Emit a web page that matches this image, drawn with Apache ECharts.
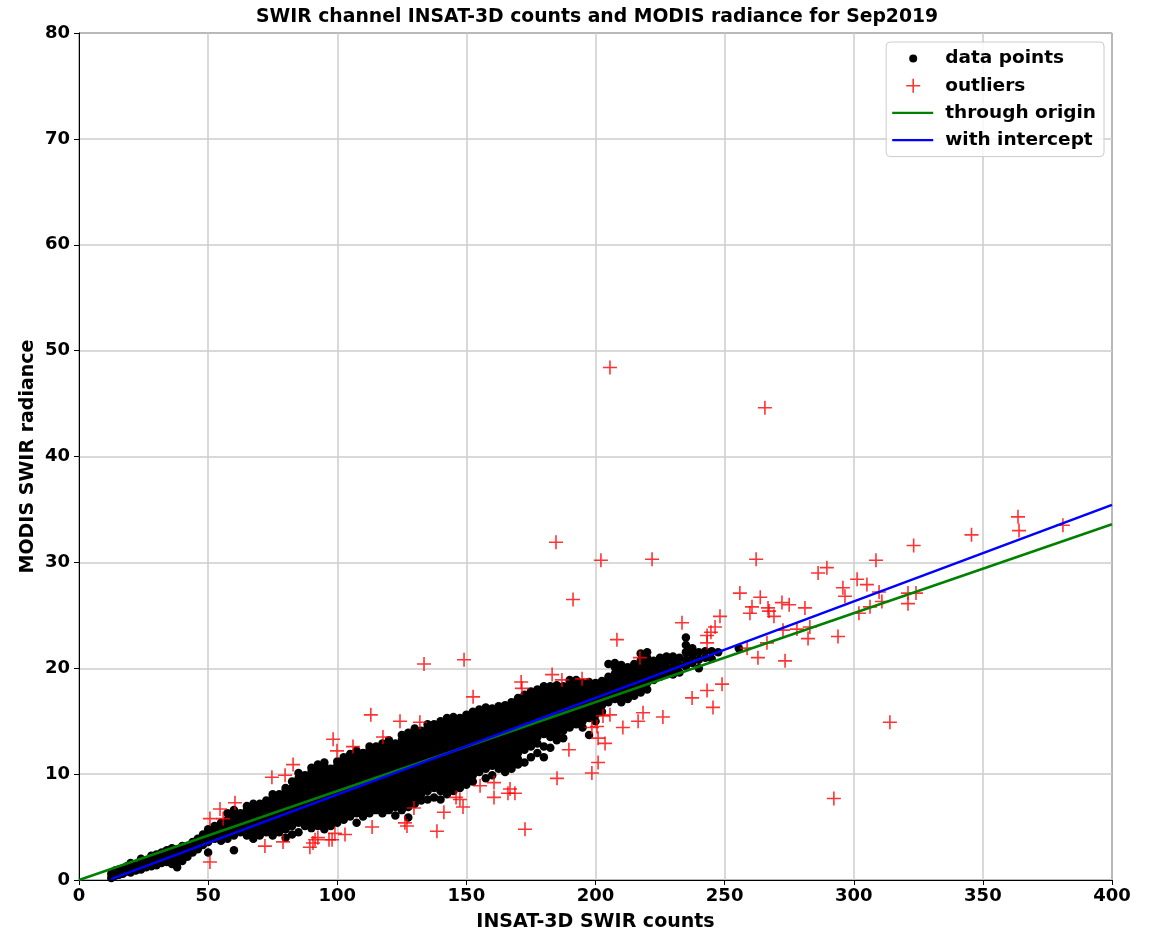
<!DOCTYPE html>
<html>
<head>
<meta charset="utf-8">
<script src="https://cdn.jsdelivr.net/npm/echarts/dist/echarts.min.js"></script>
<style>
body { margin: 0; background: #fff; }
#main { width: 1160px; height: 933px; }
</style>
</head>
<body>
<div id="main"></div>
<script>
// black data points, read column by column: [counts, [radiance values]]
var colsA = [
  [12.5, [0.2, 0.6]], [14, [0.4, 0.9]], [15.5, [0.5, 1.0]], [17, [0.6, 1.1]], [18.5, [0.8, 1.3]],
  [20, [0.7, 1.2, 1.6]], [22, [0.9, 1.4]], [24, [1.0, 1.5, 2.0]], [26, [1.2, 1.7]],
  [28, [1.3, 1.8, 2.3]], [30, [1.4, 1.9, 2.4]], [32, [1.6, 2.1, 2.6]], [34, [1.7, 2.2, 2.8]],
  [36, [1.5, 2.0, 2.5, 3.0]], [38, [1.2, 1.9, 2.4, 2.9]], [40, [1.8, 2.3, 2.8, 3.2]],
  [42, [2.2, 2.7, 3.2]], [44, [2.6, 3.1, 3.6]], [46, [2.9, 3.4, 3.9]], [48, [3.3, 3.8, 4.3]]
];
var colsB = [
  [50, [2.6, 3.6, 4.2, 4.8]], [52.5, [3.9, 4.5, 5.1]], [55, [3.7, 4.2, 4.8, 5.4]],
  [57.5, [3.9, 4.5, 5.1, 5.7, 6.3]], [60, [2.8, 4.2, 4.8, 5.4, 6.0, 6.6]], [62.5, [4.5, 5.1, 5.7, 6.3]],
  [65, [4.2, 4.8, 5.4, 6.0, 6.6, 7.0]], [67.5, [3.9, 4.5, 5.1, 5.7, 6.3, 6.9, 7.2]],
  [70, [4.2, 4.8, 5.4, 6.0, 6.6, 7.2]], [72.5, [4.5, 5.1, 5.7, 6.3, 6.9, 7.5]],
  [75, [4.2, 4.8, 5.4, 6.0, 6.6, 7.2, 7.8, 8.1]], [77.5, [4.5, 5.1, 5.7, 6.3, 6.9, 7.5, 8.1]],
  [80, [4.0, 4.8, 5.4, 6.0, 6.6, 7.2, 7.8, 8.4, 8.7]], [82.5, [4.3, 5.1, 5.7, 6.3, 6.9, 7.5, 8.1, 8.7, 9.3]],
  [85, [4.5, 5.4, 6.0, 6.6, 7.2, 7.8, 8.4, 9.0, 9.6, 10.1]], [87.5, [5.1, 5.7, 6.3, 6.9, 7.5, 8.1, 8.7, 9.3, 9.9]],
  [90, [4.9, 5.4, 6.0, 6.6, 7.2, 7.8, 8.4, 9.0, 9.6, 10.2, 10.6]],
  [92.5, [5.1, 5.7, 6.3, 6.9, 7.5, 8.1, 8.7, 9.3, 9.9, 10.5, 10.9]],
  [95, [4.8, 5.4, 6.0, 6.6, 7.2, 7.8, 8.4, 9.0, 9.6, 10.2, 10.8, 11.1]],
  [97.5, [5.1, 5.7, 6.3, 6.9, 7.5, 8.1, 8.7, 9.3, 9.9, 10.5]]
];
var colsC = [
  [100, [5.4, 6.0, 6.6, 7.2, 7.8, 8.4, 9.0, 9.6, 10.2, 10.8, 11.2]],
  [102.5, [5.7, 6.3, 6.9, 7.5, 8.1, 8.7, 9.3, 9.9, 10.5, 11.1, 11.6]],
  [105, [6.0, 6.6, 7.2, 7.8, 8.4, 9.0, 9.6, 10.2, 10.8, 11.4, 11.9]],
  [107.5, [5.4, 6.3, 6.9, 7.5, 8.1, 8.7, 9.3, 9.9, 10.5, 11.1, 11.7, 12.2]],
  [110, [6.0, 6.6, 7.2, 7.8, 8.4, 9.0, 9.6, 10.2, 10.8, 11.4, 12.0]],
  [112.5, [6.3, 6.9, 7.5, 8.1, 8.7, 9.3, 9.9, 10.5, 11.1, 11.7, 12.3, 12.6]],
  [115, [6.6, 7.2, 7.8, 8.4, 9.0, 9.6, 10.2, 10.8, 11.4, 12.0, 12.6]],
  [117.5, [6.3, 6.9, 7.5, 8.1, 8.7, 9.3, 9.9, 10.5, 11.1, 11.7, 12.3, 12.9]],
  [120, [6.6, 7.2, 7.8, 8.4, 9.0, 9.6, 10.2, 10.8, 11.4, 12.0, 12.6, 13.2]],
  [122.5, [6.1, 6.9, 7.5, 8.1, 8.7, 9.3, 9.9, 10.5, 11.1, 11.7, 12.3, 12.9]],
  [125, [6.6, 7.2, 7.8, 8.4, 9.0, 9.6, 10.2, 10.8, 11.4, 12.0, 12.6, 13.2, 13.7]],
  [127.5, [5.9, 6.9, 7.5, 8.1, 8.7, 9.3, 9.9, 10.5, 11.1, 11.7, 12.3, 12.9, 13.5, 13.9]],
  [130, [7.2, 7.8, 8.4, 9.0, 9.6, 10.2, 10.8, 11.4, 12.0, 12.6, 13.2, 13.8, 14.3]],
  [132.5, [7.5, 8.1, 8.7, 9.3, 9.9, 10.5, 11.1, 11.7, 12.3, 12.9, 13.5, 14.1]],
  [135, [7.6, 8.4, 9.0, 9.6, 10.2, 10.8, 11.4, 12.0, 12.6, 13.2, 13.8, 14.4, 14.7]],
  [137.5, [7.8, 8.7, 9.3, 9.9, 10.5, 11.1, 11.7, 12.3, 12.9, 13.5, 14.1, 14.7]],
  [140, [7.6, 8.4, 9.0, 9.6, 10.2, 10.8, 11.4, 12.0, 12.6, 13.2, 13.8, 14.4, 15.0]],
  [142.5, [8.1, 8.7, 9.3, 9.9, 10.5, 11.1, 11.7, 12.3, 12.9, 13.5, 14.1, 14.7, 15.3]],
  [145, [8.4, 9.0, 9.6, 10.2, 10.8, 11.4, 12.0, 12.6, 13.2, 13.8, 14.4, 15.0, 15.4]],
  [147.5, [8.7, 9.3, 9.9, 10.5, 11.1, 11.7, 12.3, 12.9, 13.5, 14.1, 14.7, 15.3]]
];
var colsD = [
  [150, [9.0, 9.6, 10.2, 10.8, 11.4, 12.0, 12.6, 13.2, 13.8, 14.4, 15.0, 15.6]],
  [152.5, [9.3, 9.9, 10.5, 11.1, 11.7, 12.3, 12.9, 13.5, 14.1, 14.7, 15.3, 15.9]],
  [155, [10.2, 10.8, 11.4, 12.0, 12.6, 13.2, 13.8, 14.4, 15.0, 15.6, 16.1]],
  [157.5, [9.6, 10.5, 11.1, 11.7, 12.3, 12.9, 13.5, 14.1, 14.7, 15.3, 15.9, 16.3]],
  [160, [9.9, 10.8, 11.4, 12.0, 12.6, 13.2, 13.8, 14.4, 15.0, 15.6, 16.2]],
  [162.5, [10.5, 11.1, 11.7, 12.3, 12.9, 13.5, 14.1, 14.7, 15.3, 15.9, 16.4]],
  [165, [10.2, 10.8, 11.4, 12.0, 12.6, 13.2, 13.8, 14.4, 15.0, 15.6, 16.2, 16.5]],
  [167.5, [10.5, 11.1, 11.7, 12.3, 12.9, 13.5, 14.1, 14.7, 15.3, 15.9, 16.5, 16.8]],
  [170, [10.9, 11.4, 12.0, 12.6, 13.2, 13.8, 14.4, 15.0, 15.6, 16.2, 16.8, 17.2]],
  [172.5, [11.1, 12.3, 12.9, 13.5, 14.1, 14.7, 15.3, 15.9, 16.5, 17.1, 17.5]],
  [175, [11.6, 12.6, 13.2, 13.8, 14.4, 15.0, 15.6, 16.2, 16.8, 17.4, 17.8]],
  [177.5, [12.0, 12.9, 13.5, 14.1, 14.7, 15.3, 15.9, 16.5, 17.1, 17.7, 18.0]],
  [180, [11.6, 12.6, 13.8, 14.4, 15.0, 15.6, 16.2, 16.8, 17.4, 18.0, 18.3]],
  [182.5, [12.5, 13.5, 14.1, 14.7, 15.3, 15.9, 16.5, 17.1, 17.7, 18.3]],
  [185, [13.2, 13.8, 14.4, 15.0, 15.6, 16.2, 16.8, 17.4, 18.0, 18.4]],
  [187.5, [13.4, 14.1, 14.7, 15.3, 15.9, 16.5, 17.1, 17.7, 18.3]],
  [190, [14.4, 15.0, 15.6, 16.2, 16.8, 17.4, 18.0, 18.6, 18.9]],
  [192.5, [14.7, 15.3, 15.9, 16.5, 17.1, 17.7, 18.3, 18.9]],
  [195, [14.4, 15.0, 15.6, 16.2, 16.8, 17.4, 18.0, 18.6]],
  [197.5, [13.7, 15.3, 15.9, 16.5, 17.1, 17.7, 18.3, 18.7]]
];
var colsE = [
  [200, [15.0, 15.6, 16.2, 16.8, 17.4, 18.0, 18.6]], [202.5, [15.9, 16.5, 17.1, 17.7, 18.3, 18.8]],
  [205, [16.8, 17.4, 18.0, 18.6, 19.2, 20.4]], [207.5, [17.1, 17.7, 18.3, 18.9, 19.5, 20.1, 20.5]],
  [210, [16.8, 17.4, 18.0, 18.6, 19.2, 19.8, 20.3]], [212.5, [17.1, 17.7, 18.3, 18.9, 19.5, 20.1]],
  [215, [17.4, 18.0, 18.6, 19.2, 19.8, 20.4]], [217.5, [17.7, 18.3, 18.9, 19.5, 20.1, 20.7, 21.4]],
  [220, [18.0, 18.6, 19.2, 19.8, 20.4, 21.0, 21.5]], [222.5, [18.9, 19.5, 20.1, 20.7]],
  [225, [19.2, 19.8, 20.4, 21.0]], [227.5, [19.5, 20.1, 20.7, 21.1]],
  [230, [19.4, 20.0, 20.6, 21.1]], [232.5, [19.6, 20.3, 21.0]],
  [235, [20.2, 20.8, 21.5, 22.2, 22.9]], [237.5, [20.5, 21.2, 21.9]],
  [240, [20.0, 20.8, 21.5]], [242.5, [21.0, 21.6]], [245, [20.9, 21.6]],
  [247.5, [21.5]], [255.5, [21.9]]
];

// red outliers [counts, radiance]
var outliers = [
  [205.6, 48.4], [265.6, 44.6], [184.7, 31.9], [202.1, 30.2], [221.9, 30.3], [262.2, 30.3], [191.3, 26.5],
  [381, 33.5], [363.6, 34.3], [364, 33.0], [345.6, 32.6], [323.2, 31.6], [308.6, 30.2],
  [289.6, 29.5], [286.2, 29.0], [301.3, 28.4], [305.1, 27.9], [295.8, 27.6], [296.6, 26.8],
  [309.8, 27.2], [310.9, 26.3], [321, 27.1], [324.1, 27.1], [321, 26.1], [302, 25.2], [306.3, 25.8],
  [263.8, 26.7], [272.2, 26.2], [275, 26.0], [281.1, 25.7], [267.2, 25.4], [269.1, 24.9],
  [272.6, 23.6], [278, 23.7], [283, 23.9], [282.3, 22.8], [293.9, 23.0], [266.4, 22.4], [273.4, 20.7],
  [314, 14.9], [292.3, 7.7],
  [255.9, 27.1], [260.6, 25.8], [259.8, 25.2], [266.8, 25.7], [248.2, 24.9], [246.3, 23.9],
  [244.7, 23.4], [243.2, 23.1], [243.2, 22.4], [233.5, 24.3], [208.3, 22.7], [262.9, 21.0],
  [258.7, 21.9], [217.2, 21.0], [249, 18.5], [243.2, 17.9], [237.4, 17.2], [245.5, 16.3],
  [226.1, 15.4], [218.4, 15.8], [216.5, 15.0], [210.6, 14.4], [205.6, 15.6], [202.9, 15.5],
  [200.6, 14.5], [198.6, 14.4], [201, 13.4], [203.7, 12.9], [189.7, 12.3], [201, 11.1],
  [198.6, 10.1], [185.1, 9.6], [183.2, 19.4], [187, 18.9], [194.8, 19.0], [171.2, 18.7],
  [171.5, 18.1], [172.7, 4.8],
  [133.6, 20.4], [149.1, 20.8], [152.6, 17.3], [113, 15.6], [124.3, 15.0], [132, 14.9],
  [117.7, 13.5], [98.4, 13.3], [99.9, 12.2], [106.1, 12.6], [155.3, 8.9], [160.7, 9.2],
  [160.7, 7.8], [166.9, 8.6], [166.1, 8.2], [168.8, 8.2], [146, 7.8], [147.5, 7.6],
  [148.7, 6.9], [129.7, 6.8], [141.3, 6.4],
  [82.9, 10.9], [79.8, 9.9], [74.7, 9.7], [138.6, 4.6], [126.2, 5.4], [127, 5.1], [113.5, 5.0],
  [103, 4.3], [99.1, 4.4], [98, 3.8], [92.5, 4.0], [90.6, 3.5], [89.4, 3.1], [79, 3.6],
  [60.4, 7.3], [54.6, 6.7], [55.8, 5.8], [50.7, 5.8], [72, 3.2], [50.7, 1.7], [91.4, 3.8], [96.8, 3.8]
];

// fitted lines, end points
var lineOrigin = [[0, 0], [400, 33.6]];
var lineIntercept = [[12.4, 0.08], [400, 35.43]];

var xTicks = { min: 0, max: 400, step: 50 };
var yTicks = { min: 0, max: 80, step: 10 };

var dataPoints = [];
[colsA, colsB, colsC, colsD, colsE].forEach(function (cols) {
  cols.forEach(function (c) {
    c[1].forEach(function (y) { dataPoints.push([c[0], y]); });
  });
});

var FONT = 'DejaVu Sans';
var plusPath = 'path://M6.2,0h1.6v6.2h6.2v1.6h-6.2v6.2h-1.6v-6.2h-6.2v-1.6h6.2z';

var chart = echarts.init(document.getElementById('main'));
chart.setOption({
  animation: false,
  backgroundColor: '#fff',
  title: {
    text: 'SWIR channel INSAT-3D counts and MODIS radiance for Sep2019',
    left: 256,
    top: 8,
    padding: 0,
    textStyle: { fontFamily: FONT, fontWeight: 'bold', fontSize: 18.8, color: '#000' }
  },
  grid: {
    left: 79, right: 48, top: 33, bottom: 53,
    show: true, borderColor: '#000', borderWidth: 1,
    outerBoundsMode: 'none'
  },
  legend: {
    orient: 'vertical',
    right: 56,
    top: 42,
    padding: [7, 8, 7, 6],
    itemWidth: 48,
    itemHeight: 14,
    itemGap: 8.2,
    backgroundColor: 'rgba(255,255,255,0.8)',
    borderColor: '#cccccc',
    borderWidth: 1,
    borderRadius: 4,
    itemStyle: { borderWidth: 0 },
    textStyle: { fontFamily: FONT, fontWeight: 'bold', fontSize: 18.5, color: '#000' },
    data: [
      { name: 'data points', icon: 'path://M0,0M48,14M25,7a4,4 0 1,1 -8,0a4,4 0 1,1 8,0z' },
      { name: 'outliers', icon: 'path://M0,0M48,14M20.2,0h1.6v6.2h6.2v1.6h-6.2v6.2h-1.6v-6.2h-6.2v-1.6h6.2z' },
      { name: 'through origin', icon: 'path://M0,0M48,14M0,5.8h41v2.4h-41z' },
      { name: 'with intercept', icon: 'path://M0,0M48,14M0,5.8h41v2.4h-41z' }
    ]
  },
  xAxis: {
    type: 'value',
    min: xTicks.min, max: xTicks.max, interval: xTicks.step,
    name: 'INSAT-3D SWIR counts',
    nameLocation: 'middle',
    nameGap: 33,
    nameMoveOverlap: false,
    nameTextStyle: { fontFamily: FONT, fontWeight: 'bold', fontSize: 19, color: '#000' },
    axisLine: { show: true, onZero: false, lineStyle: { color: '#000', width: 1 } },
    axisTick: { show: true, inside: false, length: 5, lineStyle: { color: '#000' } },
    axisLabel: { margin: 7, fontFamily: FONT, fontWeight: 'bold', fontSize: 18, color: '#000' },
    splitLine: { show: true, lineStyle: { color: '#cccccc', width: 1.5 } }
  },
  yAxis: {
    type: 'value',
    min: yTicks.min, max: yTicks.max, interval: yTicks.step,
    name: 'MODIS SWIR radiance',
    nameLocation: 'middle',
    nameRotate: 90,
    nameGap: 41,
    nameMoveOverlap: false,
    nameTextStyle: { fontFamily: FONT, fontWeight: 'bold', fontSize: 19, color: '#000' },
    axisLine: { show: true, onZero: false, lineStyle: { color: '#000', width: 1 } },
    axisTick: { show: true, inside: false, length: 5, lineStyle: { color: '#000' } },
    axisLabel: { margin: 9, fontFamily: FONT, fontWeight: 'bold', fontSize: 18, color: '#000' },
    splitLine: { show: true, lineStyle: { color: '#cccccc', width: 1.5 } }
  },
  series: [
    {
      name: 'data points',
      type: 'scatter',
      color: '#000',
      symbol: 'circle',
      symbolSize: 8.5,
      itemStyle: { color: '#000', opacity: 1 },
      data: dataPoints
    },
    {
      name: 'outliers',
      type: 'scatter',
      color: '#ff0000',
      symbol: plusPath,
      symbolSize: 14,
      itemStyle: { color: '#ff0000' },
      data: outliers
    },
    {
      name: 'through origin',
      type: 'line',
      color: '#008000',
      symbol: 'none',
      lineStyle: { color: '#008000', width: 2.5 },
      data: lineOrigin
    },
    {
      name: 'with intercept',
      type: 'line',
      color: '#0000ff',
      symbol: 'none',
      lineStyle: { color: '#0000ff', width: 2.5 },
      data: lineIntercept
    }
  ]
});
</script>
</body>
</html>
